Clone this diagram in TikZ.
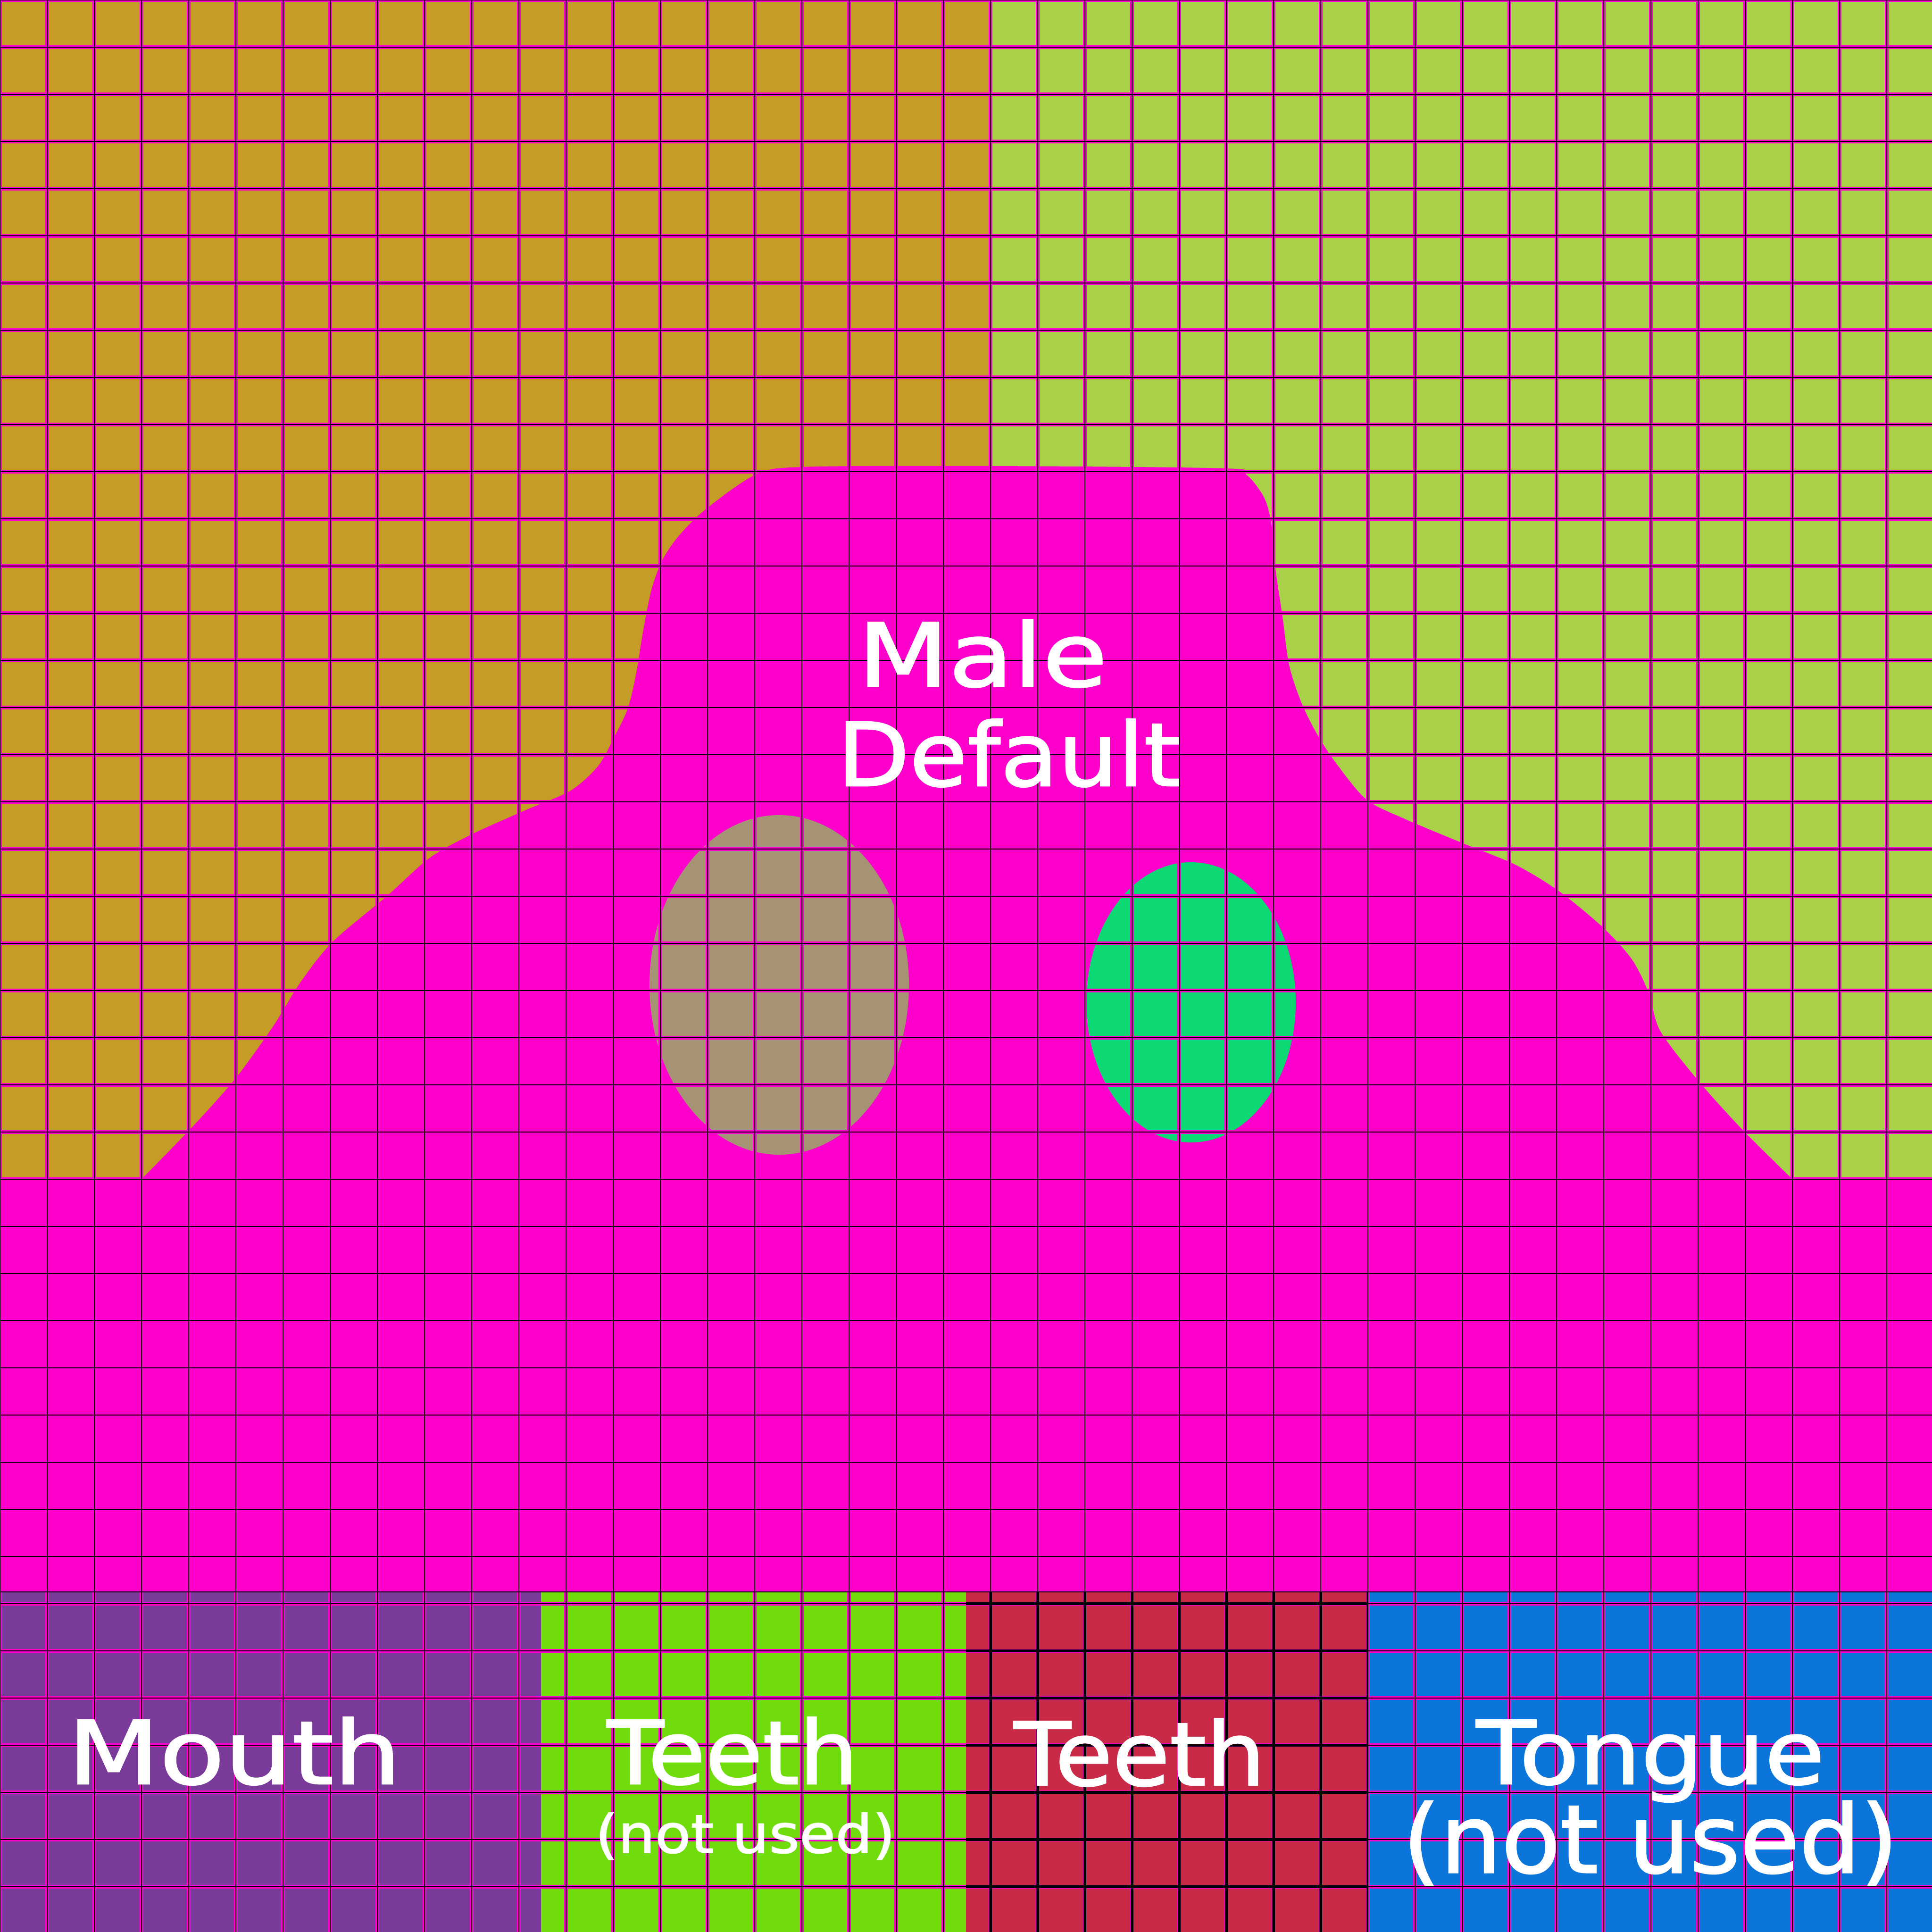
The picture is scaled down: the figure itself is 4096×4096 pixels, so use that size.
\documentclass[tikz,border=0pt]{standalone}
\usepackage{fontspec}
\newfontfamily\labelfont{DejaVu Sans}[FakeBold=1.5]
\definecolor{Gold}{HTML}{C49C26}
\definecolor{Leaf}{HTML}{A8D048}
\definecolor{Pink}{HTML}{FF00CC}
\definecolor{Tan}{HTML}{A59373}
\definecolor{Jade}{HTML}{0CD874}
\definecolor{Grape}{HTML}{7A3A9A}
\definecolor{Lime}{HTML}{70DC0C}
\definecolor{Crimson}{HTML}{C92A47}
\definecolor{Azure}{HTML}{0C75DA}
\tikzset{
  uvlabel/.style={text=white,inner sep=0pt,anchor=base,transform shape,
    font=\labelfont\fontsize{53}{60}\selectfont},
  uvnote/.style={uvlabel,font=\labelfont\fontsize{32}{36}\selectfont},
  uvnotebig/.style={uvlabel,font=\labelfont\fontsize{57}{64}\selectfont},
  gridpink/.style={Pink,line width=0.75mm},
  gridblack/.style={black,line width=0.25mm}
}
\begin{document}
\begin{tikzpicture}[x=0.1mm,y=-0.1mm]
  \useasboundingbox (0,0) rectangle (4096,4096);
  % upper quadrants and face band
  \fill[Gold] (0,0) rectangle (2100,2500);
  \fill[Leaf] (2100,0) rectangle (4096,2500);
  \fill[Pink] (0,2500) rectangle (4096,3375);
  % head silhouette
  \fill[Pink] plot[smooth] coordinates {(300,2500) (407,2390) (498,2288) (579,2176)
    (636,2084) (705,1997) (820,1900) (912,1818) (1004,1767) (1118,1716) (1210,1676)
    (1268,1624) (1302,1563) (1331,1502) (1348,1431) (1365,1329) (1382,1247) (1405,1186)
    (1440,1135) (1497,1079) (1601,1007) (1700,990) (2100,988) (2597,993) (2643,1007)
    (2679,1053) (2694,1104) (2704,1206) (2719,1308) (2733,1410) (2760,1492) (2796,1563)
    (2837,1624) (2898,1696) (2980,1737) (3102,1788) (3214,1834) (3306,1890) (3398,1966)
    (3459,2033) (3495,2104) (3520,2186) (3602,2293) (3694,2395) (3800,2500)} -- cycle;
  % eyes
  \fill[Tan] (1652,2088) ellipse [x radius=275,y radius=360];
  \fill[Jade] (2525,2125) ellipse [x radius=222,y radius=297];
  % bottom strip
  \fill[Grape] (0,3375) rectangle (1147,4096);
  \fill[Lime] (1147,3375) rectangle (2048,4096);
  \fill[Crimson] (2048,3375) rectangle (2898,4096);
  \fill[Azure] (2898,3375) rectangle (4096,4096);
  % grid
  \foreach \k in {0,100,...,4000} {
    \draw[gridpink] (\k,0) -- (\k,4096);
    \draw[gridpink] (0,\k) -- (4096,\k);
  }
  \foreach \k in {0,100,...,4000} {
    \draw[gridblack] (\k,0) -- (\k,4096);
    \draw[gridblack] (0,\k) -- (4096,\k);
  }
  \begin{scope}
    \clip (2048,3375) rectangle (2898,4096);
    \foreach \k in {2100,2200,...,2800} \draw[black,line width=0.6mm] (\k,3375) -- (\k,4096);
    \foreach \k in {3400,3500,...,4000} \draw[black,line width=0.6mm] (2048,\k) -- (2898,\k);
  \end{scope}
  \draw[gridblack] (0,3375) -- (4096,3375);
  \draw[gridblack] (2898,3375) -- (2898,4096);
  % labels
  \node[uvlabel,xscale=1.2] (male) at (2083,1455) {Male};
  \node[uvlabel,xscale=1.07] (default) at (2139,1666) {Default};
  \node[uvlabel,xscale=1.21] (mouth) at (497,3782) {Mouth};
  \node[uvlabel,xscale=1.06] (teethA) at (1553,3782) {Teeth};
  \node[uvnote,xscale=1.1] (unusedA) at (1580,3928) {(not used)};
  \node[uvlabel,xscale=1.06] (teethB) at (2416,3785) {Teeth};
  \node[uvlabel,xscale=1.11] (tongue) at (3499,3782) {Tongue};
  \node[uvnotebig,xscale=1.02] (unusedB) at (3499,3970) {(not used)};
\end{tikzpicture}
\end{document}
